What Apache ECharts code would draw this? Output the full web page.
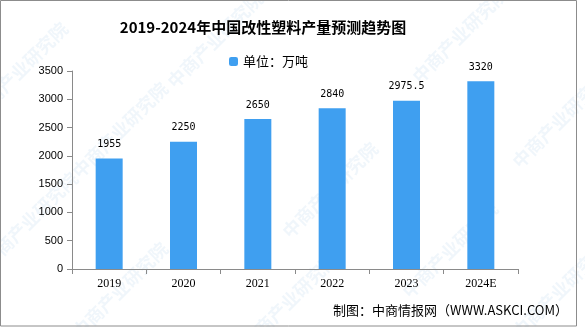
<!DOCTYPE html>
<html>
<head>
<meta charset="utf-8">
<script src="https://cdn.jsdelivr.net/npm/echarts@6/dist/echarts.min.js"></script>
<style>
  html, body { margin: 0; padding: 0; background: #fff; }
  #chart { width: 585px; height: 327px; }
</style>
</head>
<body>
<div id="chart"></div>
<script>
// 2019-2024 modified plastics output (10k tonnes)
const years = ['2019', '2020', '2021', '2022', '2023', '2024E'];
const output = [1955, 2250, 2650, 2840, 2975.5, 3320];
const yTicks = { min: 0, max: 3500, interval: 500 };

// faint diagonal brand marks
const markPositions = [
  [120, 130], [215, 40], [330, 190], [460, 35], [560, 120],
  [120, 290], [290, 300], [450, 250], [560, 290], [20, 70], [30, 220]
];
const markText = '中商产业研究院';

const chart = echarts.init(document.getElementById('chart'), null, { renderer: 'canvas' });

const graphics = markPositions.map(p => ({
  type: 'text',
  x: p[0], y: p[1],
  rotation: Math.PI / 4,
  z: -10,
  silent: true,
  style: {
    text: markText,
    font: 'bold 18px "Noto Sans CJK SC"',
    fill: 'rgba(120,175,215,0.11)',
    align: 'center',
    verticalAlign: 'middle'
  }
}));
graphics.push({
  type: 'rect',
  shape: { x: 0.5, y: 0.5, width: 576, height: 325.5 },
  style: { fill: 'none', stroke: '#8c8c8c', lineWidth: 1 },
  silent: true
});
graphics.push({
  type: 'text',
  right: 17, top: 304,
  style: {
    text: '制图：中商情报网（WWW.ASKCI.COM）',
    font: '13px "Noto Sans CJK SC"',
    fill: '#000'
  }
});

chart.setOption({
  animation: false,
  backgroundColor: '#fff',
  title: {
    text: '2019-2024年中国改性塑料产量预测趋势图',
    left: 258, top: 15,
    textAlign: 'center',
    textStyle: { fontFamily: 'Noto Sans CJK SC', fontSize: 15, fontWeight: 'bold', color: '#000' }
  },
  legend: {
    data: ['单位：万吨'],
    left: 224, top: 50,
    itemWidth: 9, itemHeight: 9, itemGap: 4,
    textStyle: { fontFamily: 'Noto Sans CJK SC', fontSize: 13, color: '#000' }
  },
  grid: { left: 72, right: 67, top: 71, bottom: 58, containLabel: false },
  xAxis: {
    type: 'category',
    data: years,
    axisLine: { lineStyle: { color: '#8a8a8a', width: 1 } },
    axisTick: { show: true, length: 5, alignWithLabel: false, lineStyle: { color: '#8a8a8a' } },
    axisLabel: { margin: 9, fontFamily: 'Liberation Serif', fontSize: 12, color: '#000' }
  },
  yAxis: {
    type: 'value',
    min: yTicks.min, max: yTicks.max, interval: yTicks.interval,
    axisLine: { show: true, lineStyle: { color: '#8a8a8a', width: 1 } },
    axisTick: { show: true, length: 5, lineStyle: { color: '#8a8a8a' } },
    splitLine: { show: false },
    axisLabel: {
      margin: 9, fontFamily: 'Liberation Sans', fontSize: 11, color: '#000',
      formatter: v => String(v)
    }
  },
  series: [{
    name: '单位：万吨',
    type: 'bar',
    data: output,
    barWidth: 27,
    itemStyle: { color: '#3f9ff0' },
    label: {
      show: true, position: 'top', distance: 9,
      fontFamily: 'DejaVu Sans Mono', fontSize: 10, color: '#000'
    }
  }],
  graphic: graphics
});
</script>
</body>
</html>
